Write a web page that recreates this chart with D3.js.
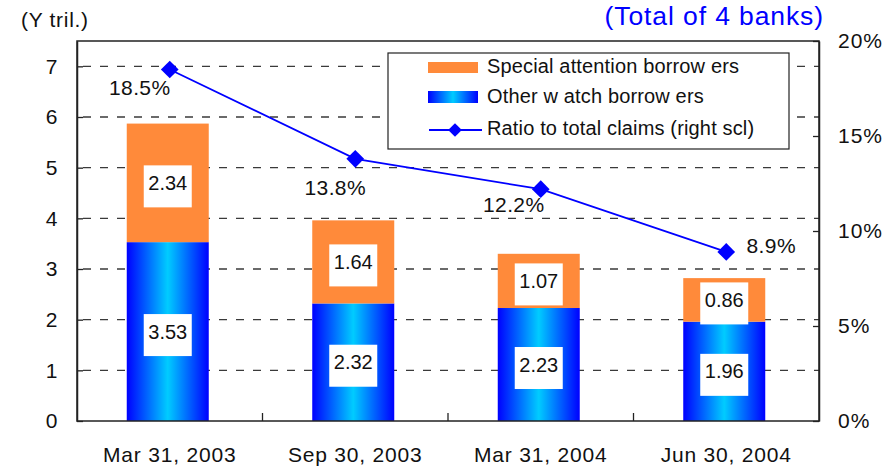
<!DOCTYPE html>
<html><head><meta charset="utf-8">
<script src="https://cdn.jsdelivr.net/npm/d3@7"></script>
<style>body{margin:0;background:#fff}svg{display:block}text{font-family:"Liberation Sans",Arial,sans-serif}</style>
</head><body>
<svg id="c" width="894" height="466"></svg>
<script>
const categories = ["Mar 31, 2003","Sep 30, 2003","Mar 31, 2004","Jun 30, 2004"];
const otherWatch = [3.53, 2.32, 2.23, 1.96];
const specialAttention = [2.34, 1.64, 1.07, 0.86];
const ratio = [18.5, 13.8, 12.2, 8.9];
const leftTicks = [0,1,2,3,4,5,6,7];
const rightTicks = [0,5,10,15,20];
const legendLabels = ["Special attention borrow ers","Other w atch borrow ers","Ratio to total claims (right scl)"];

const svg = d3.select("#c");
const L=77, R=819, T=41, B=421;
const xb = d3.scaleBand().domain(categories).range([L,R]);
const y = d3.scaleLinear().domain([0,7.5]).range([B,T]);
const y2 = d3.scaleLinear().domain([0,20]).range([B,T]);
const mid = c => xb(c)+xb.bandwidth()/2;
const barX = c => mid(c)-2;

const defs = svg.append("defs");
const g = defs.append("linearGradient").attr("id","blueGrad").attr("x1","0").attr("x2","1").attr("y1","0").attr("y2","0");
g.append("stop").attr("offset","0").attr("stop-color","#0000ff");
g.append("stop").attr("offset","0.5").attr("stop-color","#00ccff");
g.append("stop").attr("offset","1").attr("stop-color","#0000ff");

// gridlines
svg.append("g").selectAll("line").data(leftTicks.filter(d=>d>0)).join("line")
  .attr("x1",L+6).attr("x2",R).attr("y1",d=>y(d)).attr("y2",d=>y(d))
  .attr("stroke","#3a3a3a").attr("stroke-width",1.3).attr("stroke-dasharray","8,9");

// bars
const bw = 82;
svg.append("g").selectAll("rect").data(categories).join("rect")
  .attr("x",c=>barX(c)-bw/2).attr("width",bw)
  .attr("y",(c,i)=>y(otherWatch[i])).attr("height",(c,i)=>y(0)-y(otherWatch[i]))
  .attr("fill","url(#blueGrad)");
svg.append("g").selectAll("rect").data(categories).join("rect")
  .attr("x",c=>barX(c)-bw/2).attr("width",bw)
  .attr("y",(c,i)=>y(otherWatch[i]+specialAttention[i])).attr("height",(c,i)=>y(otherWatch[i])-y(otherWatch[i]+specialAttention[i]))
  .attr("fill","#ff8a3a");

// value labels
function valLabel(vals, midY){
  const gg = svg.append("g");
  categories.forEach((c,i)=>{
    const my = midY(i);
    gg.append("rect").attr("x",barX(c)-24).attr("y",my-17.5).attr("width",48).attr("height",42).attr("fill","#fff");
    gg.append("text").attr("x",barX(c)).attr("y",my+7).attr("text-anchor","middle").attr("font-size",20).attr("fill","#111").text(vals[i].toFixed(2));
  });
}
valLabel(otherWatch, i=>(y(0)+y(otherWatch[i]))/2);
valLabel(specialAttention, i=>(y(otherWatch[i])+y(otherWatch[i]+specialAttention[i]))/2);

// frame
svg.append("rect").attr("x",L).attr("y",T).attr("width",R-L).attr("height",B-T).attr("fill","none").attr("stroke","#222").attr("stroke-width",1.5);

// left axis
const ya = svg.append("g").attr("transform",`translate(${L},0)`).call(d3.axisLeft(y).tickValues(leftTicks).tickSizeInner(-6).tickSizeOuter(0).tickPadding(19));
ya.select(".domain").attr("stroke","#222").attr("stroke-width",1.5);
ya.selectAll(".tick line").attr("stroke","#222").attr("stroke-width",1.3);
ya.selectAll("text").attr("font-size",21).attr("fill","#111").attr("font-family","Liberation Sans, Arial").attr("letter-spacing",0.5);
// right axis
const yr = svg.append("g").attr("transform",`translate(${R},0)`).call(d3.axisRight(y2).tickValues(rightTicks).tickFormat(d=>d+"%").tickSizeInner(-6).tickSizeOuter(0).tickPadding(19));
yr.select(".domain").attr("stroke","#222").attr("stroke-width",1.5);
yr.selectAll(".tick line").attr("stroke","#222").attr("stroke-width",1.3);
yr.selectAll("text").attr("font-size",21).attr("fill","#111").attr("font-family","Liberation Sans, Arial").attr("letter-spacing",1);
// bottom axis ticks at category boundaries
svg.append("g").selectAll("line").data(categories.slice(1)).join("line")
  .attr("x1",c=>xb(c)).attr("x2",c=>xb(c)).attr("y1",B).attr("y2",B-8).attr("stroke","#222").attr("stroke-width",1.3);
svg.append("g").selectAll("text").data(categories).join("text")
  .attr("x",c=>mid(c)).attr("y",462).attr("text-anchor","middle").attr("font-size",21).attr("letter-spacing",0.8).attr("fill","#111").text(c=>c);

// ratio line
const line = d3.line().x((d,i)=>mid(categories[i])).y(d=>y2(d));
svg.append("path").datum(ratio).attr("d",line).attr("fill","none").attr("stroke","#0000ff").attr("stroke-width",1.8);
const diamond = d3.symbol().type(d3.symbolDiamond2).size(200);
svg.append("g").selectAll("path").data(ratio).join("path")
  .attr("transform",(d,i)=>`translate(${mid(categories[i])},${y2(d)})`)
  .attr("d",diamond).attr("fill","#0000ff");
const lblOff = [[-30,25.5],[-20,36],[-27,23],[45,1.5]];
svg.append("g").selectAll("text").data(ratio).join("text")
  .attr("x",(d,i)=>mid(categories[i])+lblOff[i][0]).attr("y",(d,i)=>y2(d)+lblOff[i][1])
  .attr("text-anchor","middle").attr("font-size",21).attr("letter-spacing",0.4).attr("fill","#111").text(d=>d.toFixed(1)+"%");

// legend
const lg = svg.append("g");
lg.append("rect").attr("x",388).attr("y",53).attr("width",401).attr("height",96).attr("fill","#fff").attr("stroke","#222").attr("stroke-width",1.2);
lg.append("rect").attr("x",428).attr("y",62).attr("width",50).attr("height",11).attr("fill","#ff8a3a");
lg.append("rect").attr("x",428).attr("y",91).attr("width",50).attr("height",12).attr("fill","url(#blueGrad)");
lg.append("line").attr("x1",429).attr("x2",482).attr("y1",130).attr("y2",130).attr("stroke","#0000ff").attr("stroke-width",1.8);
lg.append("path").attr("transform","translate(455,130)").attr("d",d3.symbol().type(d3.symbolDiamond2).size(120)).attr("fill","#0000ff");
lg.selectAll("text").data(legendLabels).join("text").attr("x",487).attr("y",(d,i)=>[73,103,135][i]).attr("font-size",20).attr("letter-spacing",0.15).attr("fill","#111").text(d=>d);

// titles
svg.append("text").attr("x",21).attr("y",27).attr("font-size",21).attr("letter-spacing",0.7).attr("fill","#111").text("(Y tril.)");
svg.append("text").attr("x",824).attr("y",25).attr("text-anchor","end").attr("font-size",26.5).attr("letter-spacing",0.9).attr("fill","#0000ff").text("(Total of 4 banks)");
</script>
</body></html>
